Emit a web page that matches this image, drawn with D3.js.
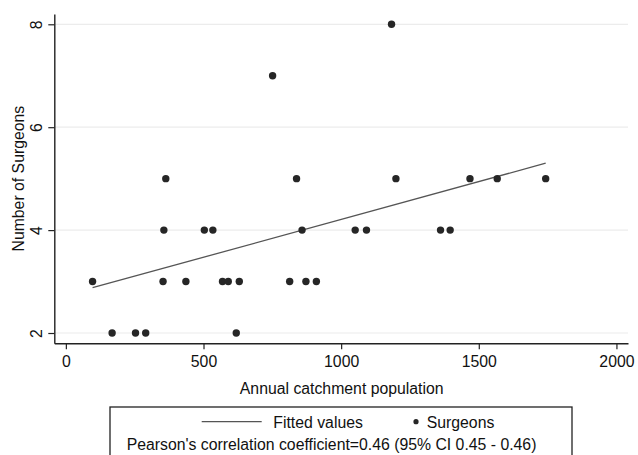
<!DOCTYPE html>
<html>
<head>
<meta charset="utf-8">
<script src="https://cdn.jsdelivr.net/npm/d3@7"></script>
<style>
  body { margin: 0; background: #fff; }
  svg { display: block; font-family: "Liberation Sans", Arial, sans-serif; }
</style>
</head>
<body>
<div id="chart"></div>
<script>
// annual catchment population vs number of surgeons
const catchment = [97, 168, 253, 290, 353, 356, 363, 436, 503, 534, 569, 590, 619, 630,
    751, 813, 838, 858, 872, 910, 1051, 1092, 1183, 1199, 1361, 1396, 1468, 1567, 1743];
const surgeons = [3, 2, 2, 2, 3, 4, 5, 3, 4, 4, 3, 3, 2, 3,
    7, 3, 5, 4, 3, 3, 4, 4, 8, 5, 4, 4, 5, 5, 5];

// fitted line end points
const fitX = [97, 1743];
const fitY = [2.88, 5.30];

const xTicks = [0, 500, 1000, 1500, 2000];
const yTicks = [2, 4, 6, 8];

const legendLabels = ['Fitted values', 'Surgeons'];
const noteText = "Pearson's correlation coefficient=0.46 (95% CI 0.45 - 0.46)";

const width = 638;
const height = 455;
const fontSize = '15.8px';

const x = d3.scaleLinear().domain([-42, 2042]).range([54.3, 628]);
const y = d3.scaleLinear().domain([1.8, 8.2]).range([343.3, 14]);

const svg = d3.select('#chart')
    .append('svg')
    .attr('width', width)
    .attr('height', height)
    .attr('viewBox', `0,0,${width},${height}`);

// grid lines
svg.append('g')
    .selectAll('line')
    .data(yTicks)
    .join('line')
    .attr('x1', x(-42))
    .attr('x2', x(2042))
    .attr('y1', d => y(d))
    .attr('y2', d => y(d))
    .style('stroke', '#ececec')
    .style('stroke-width', 1.2);

// x axis
const xAxis = svg.append('g')
    .attr('transform', `translate(0,${y(1.8)})`)
    .call(d3.axisBottom(x).tickValues(xTicks).tickFormat(d3.format('d'))
        .tickSize(6).tickPadding(6).tickSizeOuter(0));

// y axis
const yAxis = svg.append('g')
    .attr('transform', `translate(${x(-42)},0)`)
    .call(d3.axisLeft(y).tickValues(yTicks).tickFormat(d3.format('d'))
        .tickSize(6).tickSizeOuter(0));

[xAxis, yAxis].forEach(g => {
    g.select('.domain').style('stroke', '#222').style('stroke-width', 1.4);
    g.selectAll('.tick line').style('stroke', '#222').style('stroke-width', 1.2);
    g.selectAll('.tick text')
        .style('font-family', '"Liberation Sans", Arial, sans-serif')
        .style('font-size', fontSize)
        .style('fill', '#111');
});

// y tick labels are vertical
yAxis.selectAll('.tick text')
    .attr('x', null)
    .attr('dy', null)
    .attr('text-anchor', 'middle')
    .attr('transform', 'translate(-12.5,0) rotate(-90)');

// axis titles
svg.append('text')
    .attr('x', 341.7)
    .attr('y', 394)
    .attr('text-anchor', 'middle')
    .style('font-size', fontSize)
    .style('fill', '#111')
    .text('Annual catchment population');

svg.append('text')
    .attr('transform', `translate(23.5,${(y(1.8) + y(8.2)) / 2}) rotate(-90)`)
    .attr('text-anchor', 'middle')
    .style('font-size', fontSize)
    .style('fill', '#111')
    .text('Number of Surgeons');

// fitted line
svg.append('path')
    .datum(fitX.map((d, i) => [d, fitY[i]]))
    .attr('d', d3.line().x(d => x(d[0])).y(d => y(d[1])))
    .style('fill', 'none')
    .style('stroke', '#555')
    .style('stroke-width', 1.3);

// points
svg.append('g')
    .selectAll('circle')
    .data(catchment)
    .join('circle')
    .attr('cx', d => x(d))
    .attr('cy', (d, i) => y(surgeons[i]))
    .attr('r', 3.7)
    .style('fill', '#262626');

// legend
const legend = svg.append('g');

legend.append('rect')
    .attr('x', 110)
    .attr('y', 407)
    .attr('width', 462)
    .attr('height', 70)
    .style('fill', '#fff')
    .style('stroke', '#222')
    .style('stroke-width', 1.3);

legend.append('line')
    .attr('x1', 201.7)
    .attr('x2', 261.7)
    .attr('y1', 421.7)
    .attr('y2', 421.7)
    .style('stroke', '#555')
    .style('stroke-width', 1.3);

legend.append('text')
    .attr('x', 273.3)
    .attr('y', 428)
    .style('font-size', fontSize)
    .style('fill', '#111')
    .text(legendLabels[0]);

legend.append('circle')
    .attr('cx', 416)
    .attr('cy', 421.7)
    .attr('r', 2.6)
    .style('fill', '#262626');

legend.append('text')
    .attr('x', 426.7)
    .attr('y', 428)
    .style('font-size', fontSize)
    .style('fill', '#111')
    .text(legendLabels[1]);

legend.append('text')
    .attr('x', 126.7)
    .attr('y', 450)
    .style('font-size', fontSize)
    .style('fill', '#111')
    .text(noteText);
</script>
</body>
</html>
